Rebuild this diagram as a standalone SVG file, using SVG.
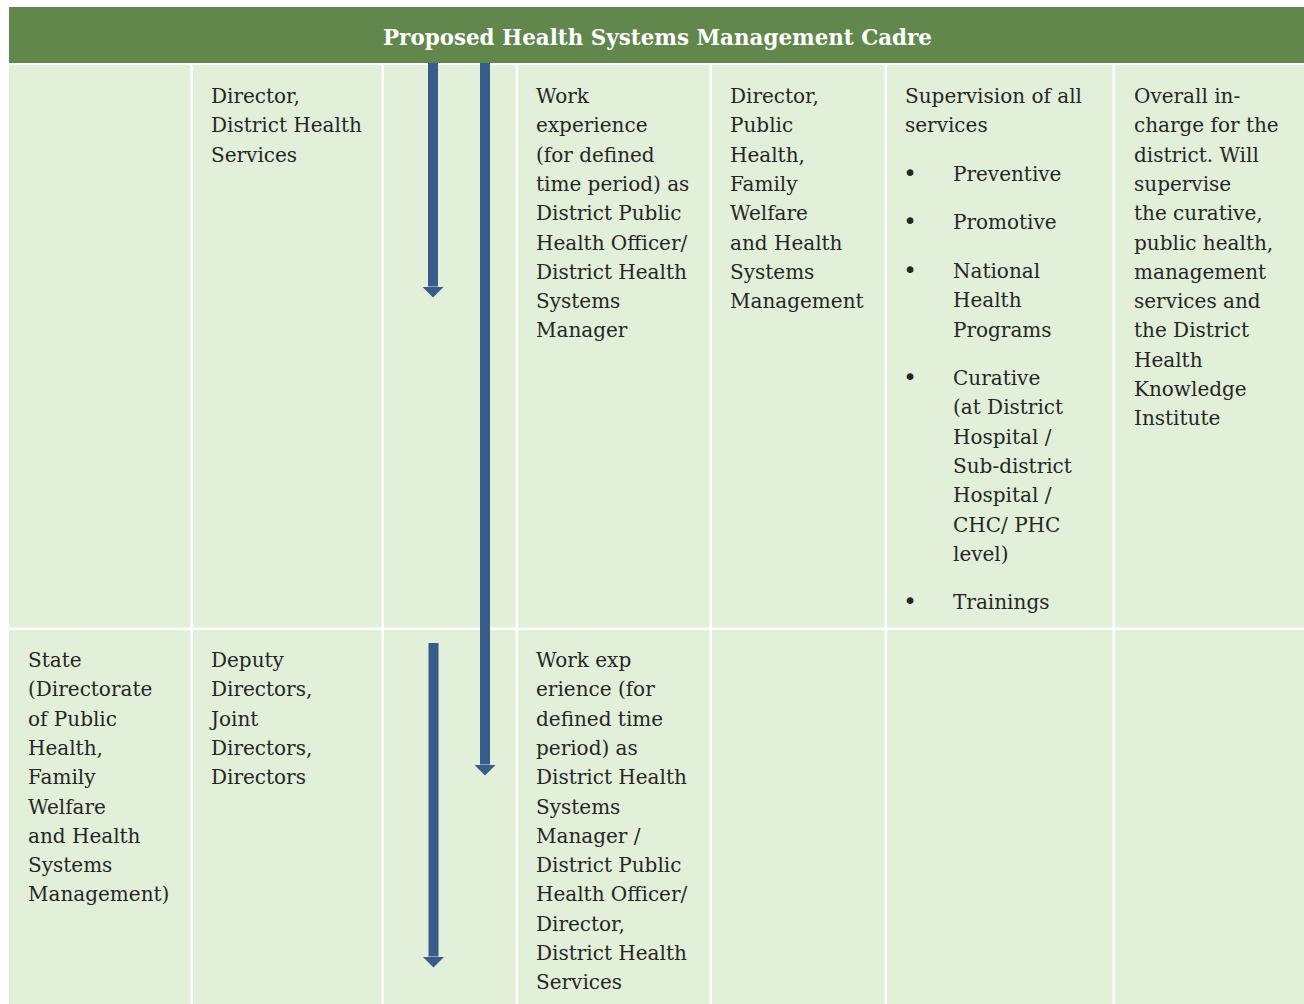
<svg xmlns="http://www.w3.org/2000/svg" width="1304" height="1004" viewBox="0 0 1304 1004">
<defs>
<style>
.bg{fill:#ffffff}
.hdr{fill:#62874C}
.cell{fill:#E2EFD9}
.t{font-family:"DejaVu Serif","Liberation Serif",serif;font-size:20px;fill:#262626}
.ttl{font-family:"DejaVu Serif","Liberation Serif",serif;font-size:23px;font-weight:bold;fill:#ffffff}
.arr{stroke:#385D8A;stroke-width:10;fill:none}
.bul{font-family:"DejaVu Sans","Liberation Sans",sans-serif;font-size:23px;fill:#262626}
</style>
<marker id="ah" viewBox="0 0 11 22" markerWidth="11" markerHeight="22" refX="0" refY="11" markerUnits="userSpaceOnUse" orient="auto">
<path d="M0,0 L11,11 L0,22 Z" fill="#385D8A"/>
</marker>
</defs>
<rect class="bg" x="0" y="0" width="1304" height="1004"/>
<g id="header">
<rect class="hdr" x="9" y="7" width="1295" height="56"/>
<text class="ttl" x="657.5" y="45" text-anchor="middle" textLength="549" lengthAdjust="spacingAndGlyphs">Proposed Health Systems Management Cadre</text>
</g>
<g id="r1c1"><rect class="cell" x="9" y="65" width="181.5" height="562.5"/></g>
<g id="r1c2"><rect class="cell" x="193" y="65" width="188.5" height="562.5"/>
<text class="t" x="211" y="103"><tspan x="211">Director,</tspan><tspan x="211" dy="29.3">District Health</tspan><tspan x="211" dy="29.3">Services</tspan></text></g>
<g id="r1c3"><rect class="cell" x="384" y="65" width="131.5" height="562.5"/></g>
<g id="r1c4"><rect class="cell" x="518" y="65" width="191.5" height="562.5"/>
<text class="t" x="536" y="103"><tspan x="536">Work</tspan><tspan x="536" dy="29.3">experience</tspan><tspan x="536" dy="29.3">(for defined</tspan><tspan x="536" dy="29.3">time period) as</tspan><tspan x="536" dy="29.3">District Public</tspan><tspan x="536" dy="29.3">Health Officer/</tspan><tspan x="536" dy="29.3">District Health</tspan><tspan x="536" dy="29.3">Systems</tspan><tspan x="536" dy="29.3">Manager</tspan></text></g>
<g id="r1c5"><rect class="cell" x="712" y="65" width="172.5" height="562.5"/>
<text class="t" x="730" y="103"><tspan x="730">Director,</tspan><tspan x="730" dy="29.3">Public</tspan><tspan x="730" dy="29.3">Health,</tspan><tspan x="730" dy="29.3">Family</tspan><tspan x="730" dy="29.3">Welfare</tspan><tspan x="730" dy="29.3">and Health</tspan><tspan x="730" dy="29.3">Systems</tspan><tspan x="730" dy="29.3">Management</tspan></text></g>
<g id="r1c6"><rect class="cell" x="887" y="65" width="225.5" height="562.5"/>
<text class="t" x="905" y="103"><tspan x="905">Supervision of all</tspan><tspan x="905" dy="29.3">services</tspan></text>
<text class="bul" x="910" y="181" text-anchor="middle">•</text>
<text class="t" x="953" y="181">Preventive</text>
<text class="bul" x="910" y="229" text-anchor="middle">•</text>
<text class="t" x="953" y="229">Promotive</text>
<text class="bul" x="910" y="278" text-anchor="middle">•</text>
<text class="t" x="953" y="278"><tspan x="953">National</tspan><tspan x="953" dy="29.3">Health</tspan><tspan x="953" dy="29.3">Programs</tspan></text>
<text class="bul" x="910" y="385" text-anchor="middle">•</text>
<text class="t" x="953" y="385"><tspan x="953">Curative</tspan><tspan x="953" dy="29.3">(at District</tspan><tspan x="953" dy="29.3">Hospital /</tspan><tspan x="953" dy="29.3">Sub-district</tspan><tspan x="953" dy="29.3">Hospital /</tspan><tspan x="953" dy="29.3">CHC/ PHC</tspan><tspan x="953" dy="29.3">level)</tspan></text>
<text class="bul" x="910" y="609" text-anchor="middle">•</text>
<text class="t" x="953" y="609">Trainings</text></g>
<g id="r1c7"><rect class="cell" x="1115" y="65" width="189" height="562.5"/>
<text class="t" x="1134" y="103"><tspan x="1134">Overall in-</tspan><tspan x="1134" dy="29.3">charge for the</tspan><tspan x="1134" dy="29.3">district. Will</tspan><tspan x="1134" dy="29.3">supervise</tspan><tspan x="1134" dy="29.3">the curative,</tspan><tspan x="1134" dy="29.3">public health,</tspan><tspan x="1134" dy="29.3">management</tspan><tspan x="1134" dy="29.3">services and</tspan><tspan x="1134" dy="29.3">the District</tspan><tspan x="1134" dy="29.3">Health</tspan><tspan x="1134" dy="29.3">Knowledge</tspan><tspan x="1134" dy="29.3">Institute</tspan></text></g>
<g id="r2c1"><rect class="cell" x="9" y="630" width="181.5" height="374"/>
<text class="t" x="28" y="667"><tspan x="28">State</tspan><tspan x="28" dy="29.3">(Directorate</tspan><tspan x="28" dy="29.3">of Public</tspan><tspan x="28" dy="29.3">Health,</tspan><tspan x="28" dy="29.3">Family</tspan><tspan x="28" dy="29.3">Welfare</tspan><tspan x="28" dy="29.3">and Health</tspan><tspan x="28" dy="29.3">Systems</tspan><tspan x="28" dy="29.3">Management)</tspan></text></g>
<g id="r2c2"><rect class="cell" x="193" y="630" width="188.5" height="374"/>
<text class="t" x="211" y="667"><tspan x="211">Deputy</tspan><tspan x="211" dy="29.3">Directors,</tspan><tspan x="211" dy="29.3">Joint</tspan><tspan x="211" dy="29.3">Directors,</tspan><tspan x="211" dy="29.3">Directors</tspan></text></g>
<g id="r2c3"><rect class="cell" x="384" y="630" width="131.5" height="374"/></g>
<g id="r2c4"><rect class="cell" x="518" y="630" width="191.5" height="374"/>
<text class="t" x="536" y="667"><tspan x="536">Work exp</tspan><tspan x="536" dy="29.3">erience (for</tspan><tspan x="536" dy="29.3">defined time</tspan><tspan x="536" dy="29.3">period) as</tspan><tspan x="536" dy="29.3">District Health</tspan><tspan x="536" dy="29.3">Systems</tspan><tspan x="536" dy="29.3">Manager /</tspan><tspan x="536" dy="29.3">District Public</tspan><tspan x="536" dy="29.3">Health Officer/</tspan><tspan x="536" dy="29.3">Director,</tspan><tspan x="536" dy="29.3">District Health</tspan><tspan x="536" dy="29.3">Services</tspan></text></g>
<g id="r2c5"><rect class="cell" x="712" y="630" width="172.5" height="374"/></g>
<g id="r2c6"><rect class="cell" x="887" y="630" width="225.5" height="374"/></g>
<g id="r2c7"><rect class="cell" x="1115" y="630" width="189" height="374"/></g>
<g id="connectors">
<line class="arr" x1="433" y1="63" x2="433" y2="286.5" marker-end="url(#ah)"/>
<line class="arr" x1="485" y1="63" x2="485" y2="764.5" marker-end="url(#ah)"/>
<line class="arr" x1="433.5" y1="643" x2="433.5" y2="956.5" marker-end="url(#ah)"/>
</g>
</svg>
